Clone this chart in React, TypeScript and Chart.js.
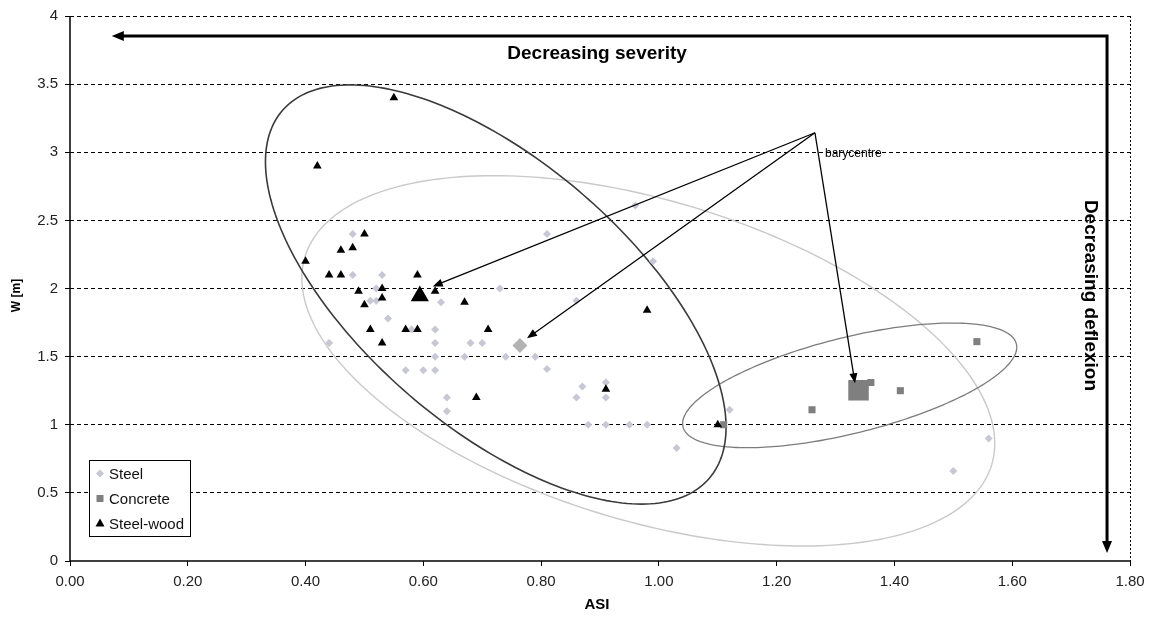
import React, { useEffect, useRef } from 'react';
import { Chart, registerables } from 'chart.js';

Chart.register(...registerables);

const FONT = '"Liberation Sans", Arial, Helvetica, sans-serif';

// ---- axes ----
const xTickValues = [0, 0.2, 0.4, 0.6, 0.8, 1.0, 1.2, 1.4, 1.6, 1.8];
const yTickValues = [0, 0.5, 1, 1.5, 2, 2.5, 3, 3.5, 4];
const xAxisTitle = 'ASI';
const yAxisTitle = 'W [m]';

// ---- series ----
const seriesLabels = ['Steel', 'Concrete', 'Steel-wood'];

const steelASI = [0.48, 0.48, 0.53, 0.52, 0.51, 0.52, 0.63, 0.73, 0.54, 0.62, 0.58, 0.44, 0.62, 0.68, 0.70, 0.62, 0.67, 0.74, 0.79, 0.57, 0.60, 0.62, 0.64, 0.64, 0.96, 0.81, 0.99, 0.86, 0.81, 0.87, 0.86, 0.91, 0.91, 0.88, 0.91, 0.95, 0.98, 1.03, 1.12, 1.56, 1.50];
const steelW = [2.40, 2.10, 2.10, 2.00, 1.91, 1.91, 1.90, 2.00, 1.78, 1.70, 1.70, 1.60, 1.60, 1.60, 1.60, 1.50, 1.50, 1.50, 1.50, 1.40, 1.40, 1.40, 1.20, 1.10, 2.61, 2.40, 2.20, 1.91, 1.41, 1.28, 1.20, 1.31, 1.20, 1.00, 1.00, 1.00, 1.00, 0.83, 1.11, 0.90, 0.66];

const concreteASI = [1.11, 1.26, 1.36, 1.41, 1.54];
const concreteW = [1.00, 1.11, 1.31, 1.25, 1.61];

const steelWoodASI = [0.42, 0.55, 0.50, 0.46, 0.48, 0.40, 0.44, 0.46, 0.59, 0.49, 0.53, 0.53, 0.50, 0.62, 0.67, 0.51, 0.57, 0.59, 0.71, 0.53, 0.69, 0.98, 0.91, 1.10];
const steelWoodW = [2.90, 3.40, 2.40, 2.28, 2.30, 2.20, 2.10, 2.10, 2.10, 1.98, 2.00, 1.93, 1.88, 1.98, 1.90, 1.70, 1.70, 1.70, 1.70, 1.60, 1.20, 1.84, 1.26, 1.00];

// barycentres: Steel, Concrete, Steel-wood
const barycentreASI = [0.764, 1.339, 0.594];
const barycentreW = [1.582, 1.253, 1.945];

// ---- annotations (data units) ----
// ellipse = centre + u*cos(t) + v*sin(t)
const ellipses = [
  { cx: 0.982, cy: 1.469, ux: 0.583, uy: -0.764, vx: -0.079, vy: -1.124, color: '#c9c9c9', width: 1.4 },
  { cx: 1.324, cy: 1.289, ux: 0.283, uy: 0.305, vx: 0.020, vy: -0.341, color: '#7c7c7c', width: 1.3 },
  { cx: 0.723, cy: 1.956, ux: 0.362, uy: -1.352, vx: -0.148, vy: -0.734, color: '#3a3a3a', width: 1.6 },
];
const cornerArrowX = [0.071, 1.761, 1.761];
const cornerArrowY = [3.853, 3.853, 0.059];
const severityText = { x: 0.895, y: 3.722, text: 'Decreasing severity' };
const deflexionText = { x: 1.732, y: 1.949, text: 'Decreasing deflexion' };
const barycentreText = { x: 1.282, y: 2.989, text: 'barycentre' };
const barycentreArrowStart = { x: 1.265, y: 3.143 };
const barycentreArrowEndASI = [0.616, 0.776, 1.333];
const barycentreArrowEndW = [2.015, 1.634, 1.304];

const STEEL_COLOR = '#c7c7d5';
const STEEL_BARY_COLOR = '#b3b3b3';
const CONCRETE_COLOR = '#7f7f7f';
const WOOD_COLOR = '#000000';

function arrowHead(ctx: CanvasRenderingContext2D, tx: number, ty: number, fx: number, fy: number, len: number, hw: number) {
  const a = Math.atan2(ty - fy, tx - fx);
  const c = Math.cos(a), s = Math.sin(a);
  ctx.beginPath();
  ctx.moveTo(tx, ty);
  ctx.lineTo(tx - len * c + hw * s, ty - len * s - hw * c);
  ctx.lineTo(tx - len * c - hw * s, ty - len * s + hw * c);
  ctx.closePath();
  ctx.fill();
}

const overlayPlugin = {
  id: 'overlay',
  beforeDatasetsDraw(chart: any) {
    const { ctx, chartArea, scales } = chart;
    const xs = scales.x, ys = scales.y;
    ctx.save();
    ctx.setLineDash([]);
    ctx.strokeStyle = '#000';
    ctx.lineWidth = 1.5;
    ctx.beginPath();
    ctx.moveTo(chartArea.left, chartArea.top);
    ctx.lineTo(chartArea.left, chartArea.bottom);
    ctx.lineTo(chartArea.right, chartArea.bottom);
    ctx.stroke();
    for (const e of ellipses) {
      ctx.beginPath();
      const n = 240;
      for (let i = 0; i <= n; i++) {
        const t = (i / n) * Math.PI * 2;
        const dx = e.cx + e.ux * Math.cos(t) + e.vx * Math.sin(t);
        const dy = e.cy + e.uy * Math.cos(t) + e.vy * Math.sin(t);
        const px = xs.getPixelForValue(dx), py = ys.getPixelForValue(dy);
        if (i === 0) ctx.moveTo(px, py); else ctx.lineTo(px, py);
      }
      ctx.closePath();
      ctx.strokeStyle = e.color;
      ctx.lineWidth = e.width;
      ctx.stroke();
    }
    ctx.restore();
  },
  afterDatasetsDraw(chart: any) {
    const { ctx, scales } = chart;
    const xs = scales.x, ys = scales.y;
    ctx.save();
    ctx.setLineDash([]);
    ctx.fillStyle = '#000';
    ctx.strokeStyle = '#000';
    // thick corner arrow
    const pts = cornerArrowX.map((v, i) => [xs.getPixelForValue(v), ys.getPixelForValue(cornerArrowY[i])]);
    const HL = 12, HW = 5;
    ctx.lineWidth = 3;
    ctx.lineJoin = 'miter';
    ctx.beginPath();
    ctx.moveTo(pts[0][0] + HL - 2, pts[0][1]);
    ctx.lineTo(pts[1][0], pts[1][1]);
    ctx.lineTo(pts[2][0], pts[2][1] - HL + 2);
    ctx.stroke();
    arrowHead(ctx, pts[0][0], pts[0][1], pts[1][0], pts[1][1], HL, HW);
    arrowHead(ctx, pts[2][0], pts[2][1], pts[1][0], pts[1][1], HL, HW);

    // barycentre arrows
    const sx = xs.getPixelForValue(barycentreArrowStart.x);
    const sy = ys.getPixelForValue(barycentreArrowStart.y);
    ctx.lineWidth = 1.3;
    barycentreArrowEndASI.forEach((v, i) => {
      const ex = xs.getPixelForValue(v), ey = ys.getPixelForValue(barycentreArrowEndW[i]);
      const a = Math.atan2(ey - sy, ex - sx);
      ctx.beginPath();
      ctx.moveTo(sx, sy);
      ctx.lineTo(ex - 8 * Math.cos(a), ey - 8 * Math.sin(a));
      ctx.stroke();
      arrowHead(ctx, ex, ey, sx, sy, 10, 4);
    });

    // texts
    ctx.textAlign = 'center';
    ctx.textBaseline = 'middle';
    ctx.font = 'bold 19px ' + FONT;
    ctx.fillText(severityText.text, xs.getPixelForValue(severityText.x), ys.getPixelForValue(severityText.y));
    ctx.save();
    ctx.translate(xs.getPixelForValue(deflexionText.x), ys.getPixelForValue(deflexionText.y));
    ctx.rotate(Math.PI / 2);
    ctx.fillText(deflexionText.text, 0, 0);
    ctx.restore();
    ctx.textAlign = 'left';
    ctx.font = '12px ' + FONT;
    ctx.fillText(barycentreText.text, xs.getPixelForValue(barycentreText.x), ys.getPixelForValue(barycentreText.y));
    ctx.restore();
  },
  afterDraw(chart: any) {
    const { ctx, chartArea } = chart;
    ctx.save();
    ctx.setLineDash([]);
    // axis titles
    ctx.fillStyle = '#000';
    ctx.textAlign = 'center';
    ctx.textBaseline = 'middle';
    ctx.font = 'bold 15px ' + FONT;
    ctx.fillText(xAxisTitle, (chartArea.left + chartArea.right) / 2 - 3, chartArea.bottom + 44);
    ctx.save();
    ctx.translate(17, (chartArea.top + chartArea.bottom) / 2 + 7);
    ctx.rotate(-Math.PI / 2);
    ctx.font = 'bold 12px ' + FONT;
    ctx.fillText(yAxisTitle, 0, 0);
    ctx.restore();

    // legend
    const bx = chartArea.left + 19, by = chartArea.bottom - 101, bw = 101, bh = 76;
    ctx.fillStyle = '#fff';
    ctx.fillRect(bx, by, bw, bh);
    ctx.strokeStyle = '#000';
    ctx.lineWidth = 1;
    ctx.strokeRect(bx + 0.5, by + 0.5, bw, bh);
    ctx.font = '15px ' + FONT;
    ctx.textAlign = 'left';
    ctx.textBaseline = 'middle';
    const rows = [by + 13.5, by + 38.5, by + 63.5];
    const mx = bx + 11;
    seriesLabels.forEach((label, i) => {
      const ry = rows[i];
      if (i === 0) {
        ctx.fillStyle = STEEL_COLOR;
        ctx.beginPath();
        ctx.moveTo(mx, ry - 4); ctx.lineTo(mx + 4, ry); ctx.lineTo(mx, ry + 4); ctx.lineTo(mx - 4, ry);
        ctx.closePath(); ctx.fill();
      } else if (i === 1) {
        ctx.fillStyle = CONCRETE_COLOR;
        ctx.fillRect(mx - 3.5, ry - 3.5, 7, 7);
      } else {
        ctx.fillStyle = WOOD_COLOR;
        ctx.beginPath();
        ctx.moveTo(mx, ry - 5); ctx.lineTo(mx + 4.5, ry + 3); ctx.lineTo(mx - 4.5, ry + 3);
        ctx.closePath(); ctx.fill();
      }
      ctx.fillStyle = '#111';
      ctx.fillText(label, mx + 9, ry + 1);
    });
    ctx.restore();
  },
};

const toPoints = (xs: number[], ys: number[]) => xs.map((x, i) => ({ x, y: ys[i] }));

export default function App() {
  const ref = useRef<HTMLCanvasElement | null>(null);
  useEffect(() => {
    document.body.style.margin = '0';
    const canvas = ref.current;
    if (!canvas) return;
    Chart.defaults.font.family = FONT;
    const chart = new Chart(canvas, {
      type: 'scatter',
      data: {
        datasets: [
          {
            label: seriesLabels[0], data: toPoints(steelASI, steelW), order: 5,
            pointStyle: 'rectRot', pointRadius: 4, pointBorderWidth: 0,
            backgroundColor: STEEL_COLOR, borderColor: STEEL_COLOR,
          },
          {
            label: seriesLabels[1], data: toPoints(concreteASI, concreteW), order: 3,
            pointStyle: 'rect', pointRadius: 5, pointBorderWidth: 0,
            backgroundColor: CONCRETE_COLOR, borderColor: CONCRETE_COLOR,
          },
          {
            label: seriesLabels[2], data: toPoints(steelWoodASI, steelWoodW), order: 1,
            pointStyle: 'triangle', pointRadius: 5, pointBorderWidth: 0,
            backgroundColor: WOOD_COLOR, borderColor: WOOD_COLOR,
          },
          {
            label: seriesLabels[0] + ' barycentre', data: [{ x: barycentreASI[0], y: barycentreW[0] }], order: 4,
            pointStyle: 'rectRot', pointRadius: 7.5, pointBorderWidth: 0,
            backgroundColor: STEEL_BARY_COLOR, borderColor: STEEL_BARY_COLOR,
          },
          {
            label: seriesLabels[1] + ' barycentre', data: [{ x: barycentreASI[1], y: barycentreW[1] }], order: 2,
            pointStyle: 'rect', pointRadius: 14.5, pointBorderWidth: 0,
            backgroundColor: CONCRETE_COLOR, borderColor: CONCRETE_COLOR,
          },
          {
            label: seriesLabels[2] + ' barycentre', data: [{ x: barycentreASI[2], y: barycentreW[2] }], order: 0,
            pointStyle: 'triangle', pointRadius: 10.5, pointBorderWidth: 0,
            backgroundColor: WOOD_COLOR, borderColor: WOOD_COLOR,
          },
        ],
      },
      options: {
        responsive: false,
        animation: false,
        devicePixelRatio: 1,
        layout: { padding: { top: 15, right: 22, left: 0, bottom: 0 } },
        plugins: { legend: { display: false }, tooltip: { enabled: false }, title: { display: false } },
        scales: {
          x: {
            type: 'linear', min: 0, max: 1.8,
            afterBuildTicks: (s: any) => { s.ticks = xTickValues.map((v) => ({ value: v })); },
            afterFit: (s: any) => { s.height = 62; },
            ticks: {
              callback: (v: any) => Number(v).toFixed(2),
              font: { size: 15, family: FONT }, color: '#222', padding: 7,
              maxRotation: 0, autoSkip: false,
            },
            grid: {
              color: (c: any) => (c.tick && Math.abs(c.tick.value - 1.8) < 1e-9 ? '#000' : 'rgba(0,0,0,0)'),
              tickColor: '#000', tickLength: 5, lineWidth: 1, drawTicks: true,
            },
            border: { display: false, dash: [2, 2] },
            title: { display: false },
          },
          y: {
            type: 'linear', min: 0, max: 4,
            afterBuildTicks: (s: any) => { s.ticks = yTickValues.map((v) => ({ value: v })); },
            afterFit: (s: any) => { s.width = 70; },
            ticks: {
              callback: (v: any) => String(v),
              font: { size: 15, family: FONT }, color: '#222', padding: 7,
            },
            grid: {
              color: (c: any) => (c.tick && c.tick.value === 0 ? 'rgba(0,0,0,0)' : '#000'),
              tickColor: '#000', tickLength: 5, lineWidth: 1, drawTicks: true,
            },
            border: { display: false, dash: [4, 3] },
            title: { display: false },
          },
        },
      },
      plugins: [overlayPlugin],
    } as any);
    return () => chart.destroy();
  }, []);
  return (
    <div style={{ width: 1152, height: 623, background: '#fff' }}>
      <canvas ref={ref} width={1152} height={623} style={{ display: 'block' }} />
    </div>
  );
}
